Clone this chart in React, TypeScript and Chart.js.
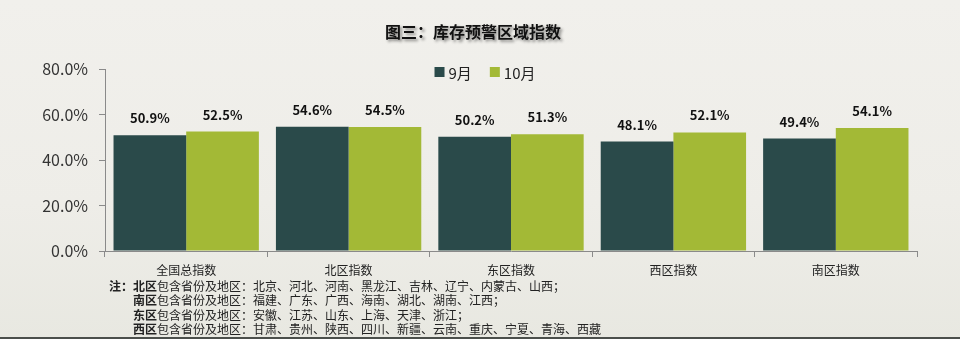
import React, { useEffect, useRef } from "react";
import { Chart, registerables } from "chart.js";

Chart.register(...registerables);

const categories = ["全国总指数", "北区指数", "东区指数", "西区指数", "南区指数"];
const sepValues = [50.9, 54.6, 50.2, 48.1, 49.4];
const octValues = [52.5, 54.5, 51.3, 52.1, 54.1];
const seriesLabels = ["9月", "10月"];
const seriesColors = ["#2a4a4a", "#a3b936"];
const yMin = 0;
const yMax = 80;
const yStep = 20;
const titleText = "图三：库存预警区域指数";
const noteHead = "注：";
const noteRegions = ["北区", "南区", "东区", "西区"];
const noteBodies = [
  "包含省份及地区：北京、河北、河南、黑龙江、吉林、辽宁、内蒙古、山西；",
  "包含省份及地区：福建、广东、广西、海南、湖北、湖南、江西；",
  "包含省份及地区：安徽、江苏、山东、上海、天津、浙江；",
  "包含省份及地区：甘肃、贵州、陕西、四川、新疆、云南、重庆、宁夏、青海、西藏",
];

const FONT = '"Noto Sans CJK SC", "Noto Sans", sans-serif';

const decorPlugin = {
  id: "decor",
  afterDatasetsDraw(chart: any) {
    const ctx = chart.ctx;
    ctx.save();
    // data labels
    ctx.font = `bold 13px ${FONT}`;
    ctx.fillStyle = "#111";
    ctx.textAlign = "center";
    ctx.textBaseline = "middle";
    chart.data.datasets.forEach((ds: any, di: number) => {
      const meta = chart.getDatasetMeta(di);
      meta.data.forEach((bar: any, i: number) => {
        const v = ds.data[i];
        ctx.fillText(v.toFixed(1) + "%", bar.x, bar.y - 17);
      });
    });
    ctx.restore();
  },
  afterDraw(chart: any) {
    const ctx = chart.ctx;
    ctx.save();
    // title
    ctx.font = `bold 16px ${FONT}`;
    ctx.textAlign = "center";
    ctx.textBaseline = "middle";
    ctx.shadowColor = "rgba(0,0,0,0.45)";
    ctx.shadowOffsetX = 2;
    ctx.shadowOffsetY = 2;
    ctx.shadowBlur = 3;
    ctx.fillStyle = "#111";
    ctx.fillText(titleText, 473, 32);
    ctx.restore();

    // legend
    ctx.save();
    ctx.font = `15px ${FONT}`;
    ctx.textBaseline = "middle";
    ctx.textAlign = "left";
    const box = 10;
    const gap = 4;
    const itemGap = 18;
    const widths = chart.data.datasets.map((ds: any) => box + gap + ctx.measureText(ds.label).width);
    const total = widths.reduce((a: number, b: number) => a + b, 0) + itemGap * (widths.length - 1);
    let x = 485 - total / 2;
    const cy = 72;
    chart.data.datasets.forEach((ds: any, i: number) => {
      ctx.fillStyle = ds.backgroundColor;
      ctx.fillRect(x, cy - box / 2, box, box);
      ctx.fillStyle = "#222";
      ctx.fillText(ds.label, x + box + gap, cy + 1);
      x += widths[i] + itemGap;
    });
    ctx.restore();
  },
};

export default function App() {
  const canvasRef = useRef<HTMLCanvasElement | null>(null);

  useEffect(() => {
    const canvas = canvasRef.current;
    if (!canvas) return;
    const chart = new Chart(canvas, {
      type: "bar",
      data: {
        labels: categories,
        datasets: [
          { label: seriesLabels[0], data: sepValues, backgroundColor: seriesColors[0], borderWidth: 0 },
          { label: seriesLabels[1], data: octValues, backgroundColor: seriesColors[1], borderWidth: 0 },
        ],
      },
      options: {
        responsive: false,
        animation: false,
        events: [],
        layout: { padding: { top: 69, right: 43, left: 0, bottom: 0 } },
        plugins: {
          legend: { display: false },
          title: { display: false },
          tooltip: { enabled: false },
        },
        datasets: {
          bar: { barPercentage: 1, categoryPercentage: 0.895 },
        },
        scales: {
          x: {
            grid: {
              display: true,
              drawOnChartArea: false,
              drawTicks: true,
              tickLength: 6,
              color: "#8a8a8a",
              offset: true,
            },
            border: { display: true, color: "#8a8a8a", width: 1 },
            ticks: {
              font: { family: FONT, size: 12 },
              color: "#222",
              padding: 6,
              maxRotation: 0,
            },
            afterFit(scale: any) {
              scale.height = 88;
            },
          },
          y: {
            min: yMin,
            max: yMax,
            grid: {
              display: true,
              drawOnChartArea: false,
              drawTicks: true,
              tickLength: 6,
              color: "#8a8a8a",
            },
            border: { display: true, color: "#8a8a8a", width: 1 },
            ticks: {
              stepSize: yStep,
              font: { family: FONT, size: 16 },
              color: "#333",
              padding: 11,
              callback: (v: any) => Number(v).toFixed(1) + "%",
            },
            afterFit(scale: any) {
              scale.width = 105;
            },
          },
        },
      },
      plugins: [decorPlugin],
    });
    return () => chart.destroy();
  }, []);

  return (
    <div
      style={{
        position: "fixed",
        left: 0,
        top: 0,
        width: 960,
        height: 339,
        overflow: "hidden",
        background: "linear-gradient(180deg, #f1f0ec 0%, #eeede8 60%, #e8e8e1 100%)",
        fontFamily: FONT,
      }}
    >
      <canvas ref={canvasRef} width={960} height={339} style={{ position: "absolute", left: 0, top: 0 }} />
      <div
        style={{
          position: "absolute",
          left: 0,
          right: 0,
          bottom: 0,
          height: 2,
          background: "#4b4f4b",
        }}
      />
      <div
        style={{
          position: "absolute",
          left: 109,
          top: 279,
          fontSize: 12,
          lineHeight: "14.4px",
          color: "#222",
          whiteSpace: "nowrap",
        }}
      >
        {noteRegions.map((r, i) => (
          <div key={r} style={{ paddingLeft: i === 0 ? 0 : 24 }}>
            {i === 0 ? <b>{noteHead}</b> : null}
            <b>{r}</b>
            {noteBodies[i]}
          </div>
        ))}
      </div>
    </div>
  );
}
